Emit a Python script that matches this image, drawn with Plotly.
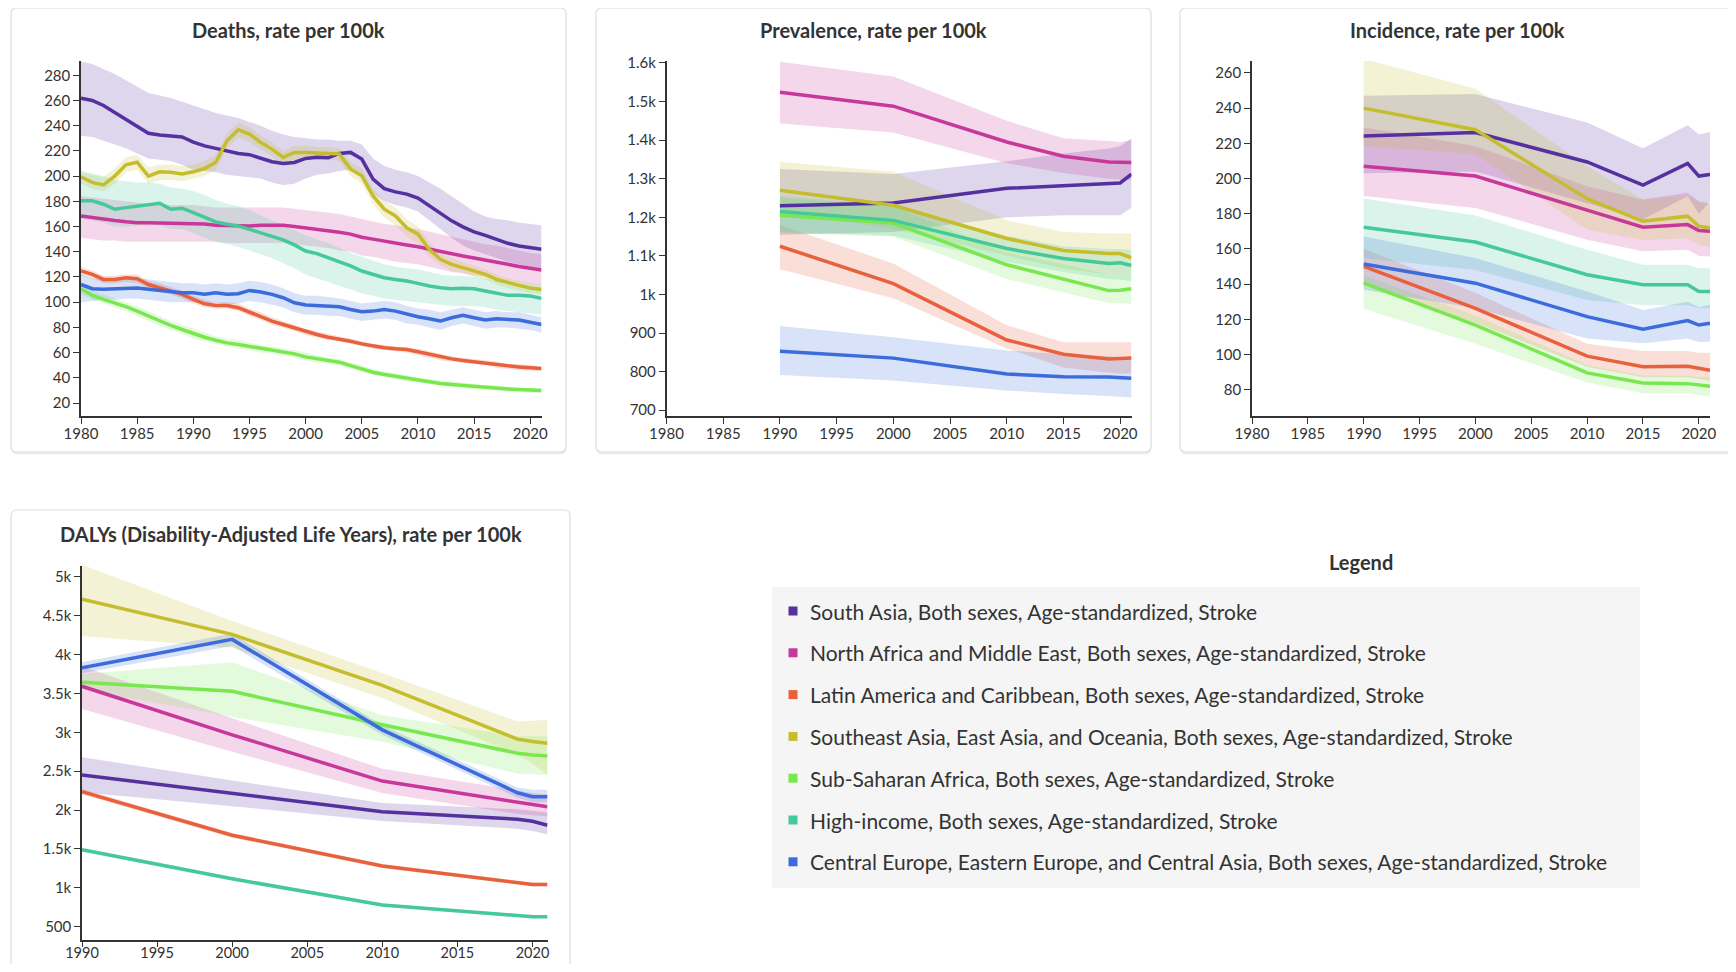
import plotly.graph_objects as go

# page geometry (target picture is 1736x972; body margin of 8px is compensated)
PAGE_W, PAGE_H = 1736, 972
OFF = 8
W, H = PAGE_W - 2 * OFF, PAGE_H - 2 * OFF

# ---------------- series ----------------
series_names = [
    "South Asia, Both sexes, Age-standardized, Stroke",
    "North Africa and Middle East, Both sexes, Age-standardized, Stroke",
    "Latin America and Caribbean, Both sexes, Age-standardized, Stroke",
    "Southeast Asia, East Asia, and Oceania, Both sexes, Age-standardized, Stroke",
    "Sub-Saharan Africa, Both sexes, Age-standardized, Stroke",
    "High-income, Both sexes, Age-standardized, Stroke",
    "Central Europe, Eastern Europe, and Central Asia, Both sexes, Age-standardized, Stroke",
]
series_colors = ["#55309f", "#c8389a", "#e8603c", "#c5bd2e", "#78e84e", "#45c99a", "#3b6cdb"]

# ---------------- Deaths (annual 1980-2021) ----------------
death_years = list(range(1980, 2022))
sa_d = [261.7, 260, 256, 250.6, 245, 239, 234, 232.6, 231.5, 231, 227, 224, 222, 220, 218, 217, 214.5, 211.4, 210, 210.8,
        214, 215, 214.5, 218, 218.8, 213.5, 197.6, 190, 187.5, 185.7, 182.5, 176.4, 169.8, 164.5, 159.7, 155.7, 153, 150, 146.7, 144.6, 143, 142]
sa_d_up = [291, 289, 285, 281, 276, 271, 266, 264, 262, 259, 256, 253, 250, 248, 246, 243, 240, 236, 233, 231,
           230, 229, 229, 228, 228, 225, 214, 208, 205, 203, 200, 195, 190, 184, 178, 172, 168, 166, 165, 163, 162, 161]
sa_d_lo = [232, 231, 228, 225, 222, 218, 214, 213, 212, 209, 205, 204, 203, 201, 200, 199, 198, 195, 193, 194,
           198, 201, 202, 204, 205, 199, 186, 180, 177, 175, 172, 165, 158, 151, 145, 141, 138, 135, 132, 130, 128, 126]
name_d = [168.4, 167, 165.8, 164.7, 163.7, 163, 163, 162.8, 162.6, 162.6, 162.6, 162, 161, 160.8, 160.5, 160.5, 161, 161, 161, 160,
          159, 158, 157, 155.5, 154, 151.5, 150, 148.3, 146.7, 145.3, 144, 142, 140, 138.3, 136.6, 135, 133.5, 131.7, 130, 128.3, 126.6, 125.5]
name_d_up = [184, 183, 182, 181, 180, 179, 178, 178, 177, 177, 177, 176, 175, 175, 175, 175, 175, 175, 175, 174,
             173, 172, 171, 170, 168, 166, 164, 162, 161, 159, 158, 156, 154, 152, 150, 148, 146, 145, 143, 141, 139, 138]
name_d_lo = [151, 150, 149, 149, 148, 148, 148, 148, 148, 148, 148, 148, 148, 147, 147, 147, 147, 147, 147, 146,
             145, 144, 143, 141, 140, 137, 136, 134, 132, 131, 130, 128, 126, 124, 123, 121, 120, 118, 117, 115, 114, 113]
la_d = [124.7, 122, 118, 118, 119.4, 118.6, 114, 111.5, 109.3, 106.2, 102.2, 98.7, 97.4, 97.4, 95.6, 92.1, 88.9, 85, 82.3, 79.6,
        76.5, 74.4, 72.2, 70.9, 69, 66.9, 65, 63.8, 63, 62.4, 60.6, 58.5, 56.6, 55, 53.7, 52.6, 51.8, 50.5, 49.2, 48.6, 47.9, 47.3]
la_d_up = [128, 125, 121, 121, 122, 122, 117, 115, 112, 109, 105, 102, 100, 100, 99, 95, 92, 88, 85, 82,
           79, 77, 75, 73, 71, 69, 67, 66, 65, 64, 63, 61, 59, 57, 56, 55, 54, 53, 51, 51, 50, 49]
la_d_lo = [121, 119, 115, 115, 116, 115, 111, 108, 106, 103, 99, 96, 95, 95, 93, 89, 86, 82, 80, 77,
           74, 72, 70, 69, 67, 65, 63, 62, 61, 60, 58, 56, 54, 53, 52, 51, 50, 48, 47, 46, 46, 45]
sea_d = [199.4, 195, 193, 200, 209, 211, 200, 203.4, 203, 201.6, 203.4, 206, 211, 228, 236.8, 233.4, 226.7, 221.4, 214.8, 218.8,
         218.8, 218.3, 218, 217.5, 205.5, 200.2, 184.3, 173.7, 168.4, 159, 153.9, 142, 134, 130, 127.4, 124.7, 122, 118, 115.4, 113.3, 111.2, 110]
sea_d_up = [205, 201, 199, 206, 215, 217, 207, 209, 209, 208, 209, 212, 217, 234, 242, 239, 232, 227, 220, 224,
            224, 223, 223, 222, 211, 206, 190, 180, 175, 166, 160, 148, 139, 135, 132, 129, 126, 122, 119, 117, 115, 114]
sea_d_lo = [194, 190, 188, 194, 203, 205, 194, 197, 197, 196, 198, 200, 205, 222, 231, 227, 221, 216, 209, 213,
            213, 213, 213, 212, 200, 194, 178, 167, 161, 152, 147, 136, 129, 125, 123, 120, 118, 114, 111, 109, 107, 106]
ssa_d = [110.7, 105.4, 102.2, 99.5, 96.4, 92.9, 88.9, 85, 81.5, 78.3, 74.9, 72.2, 69.8, 67.7, 66.4, 65, 63.2, 61.6, 60.3, 59,
         56.6, 55, 53.7, 52.4, 49.7, 47.1, 44.4, 42.6, 41.2, 39.4, 37.8, 36.5, 35.4, 34.6, 33.8, 33.3, 32.5, 32, 31.2, 30.7, 30.1, 29.9]
ssa_d_up = [114, 109, 106, 103, 100, 97, 93, 89, 85, 82, 79, 76, 73, 71, 70, 68, 66, 65, 63, 62,
            60, 58, 56, 55, 52, 50, 47, 45, 44, 42, 40, 39, 38, 37, 36, 35, 34, 34, 33, 32, 32, 32]
ssa_d_lo = [106, 102, 99, 96, 93, 89, 85, 81, 78, 75, 71, 69, 67, 65, 63, 62, 60, 59, 58, 56,
            54, 52, 51, 50, 47, 45, 42, 41, 39, 37, 36, 35, 34, 33, 32, 31, 31, 30, 29, 29, 28, 28]
hi_d = [180.4, 180.4, 177.7, 173.7, 175, 176.4, 177.7, 178.5, 173.7, 174.5, 171, 167, 163.7, 161.8, 160.5, 157.8, 155, 152, 149.4, 145.4,
        140.6, 138.5, 135.3, 132.1, 128.7, 124.7, 122, 119.4, 118, 116.8, 114.9, 112.8, 111.5, 110.7, 111, 110.7, 108.8, 107, 105.4, 105.4, 104.8, 103]
hi_d_up = [203, 202, 200, 197, 196, 195, 195, 194, 191, 190, 188, 185, 181, 178, 176, 173, 169, 165, 161, 157,
           153, 150, 147, 143, 139, 136, 133, 130, 128, 127, 126, 124, 122, 121, 121, 120, 119, 117, 116, 115, 114, 113]
hi_d_lo = [166, 165, 163, 160, 160, 161, 161, 161, 158, 158, 155, 151, 148, 146, 144, 141, 138, 135, 131, 127,
           122, 119, 116, 113, 110, 107, 105, 103, 102, 101, 100, 99, 98, 97, 97, 97, 96, 94, 93, 92, 91, 90]
ce_d = [114, 110.7, 110.2, 110.7, 111, 111.2, 110.2, 109.3, 108, 107.5, 107.5, 106.2, 107.5, 106.2, 106.7, 109.3, 108, 106.2, 103.5, 99.5,
        97.7, 97.4, 96.9, 96.4, 94.2, 92.4, 92.9, 94.2, 92.9, 90.3, 88.4, 86.8, 85, 87.6, 89.5, 87.6, 85.8, 86.8, 86.3, 85.8, 84.1, 82.3]
ce_d_up = [122, 119, 118, 119, 119, 119, 118, 117, 116, 115, 115, 114, 115, 114, 115, 117, 116, 114, 111, 107,
           105, 105, 104, 103, 101, 99, 100, 101, 100, 97, 95, 94, 92, 94, 96, 94, 92, 93, 92, 92, 90, 88]
ce_d_lo = [100, 101, 102, 102, 103, 103, 102, 101, 100, 100, 100, 99, 100, 98, 99, 101, 100, 98, 96, 92,
           90, 90, 89, 89, 87, 85, 86, 87, 86, 83, 82, 80, 78, 81, 83, 81, 79, 80, 80, 79, 78, 76]

# ---------------- Prevalence ----------------
prev_years = [1990, 2000, 2010, 2015, 2019, 2020, 2021]
sa_p = [1230, 1237, 1275, 1283, 1288, 1289, 1312]
sa_p_up = [1325, 1312, 1345, 1365, 1378, 1385, 1405]
sa_p_lo = [1155, 1162, 1200, 1205, 1205, 1205, 1225]
name_p = [1524, 1488, 1395, 1358, 1343, 1342, 1342]
name_p_up = [1603, 1565, 1450, 1405, 1398, 1395, 1400]
name_p_lo = [1443, 1420, 1340, 1315, 1300, 1298, 1296]
la_p = [1125, 1028, 882, 845, 833, 833, 835]
la_p_up = [1180, 1080, 920, 876, 876, 876, 876]
la_p_lo = [1065, 990, 860, 811, 797, 795, 795]
sea_p = [1270, 1231, 1145, 1114, 1106, 1106, 1095]
sea_p_up = [1344, 1318, 1192, 1162, 1158, 1158, 1158]
sea_p_lo = [1214, 1170, 1101, 1067, 1052, 1050, 1049]
ssa_p = [1205, 1185, 1077, 1041, 1010, 1011, 1015]
ssa_p_up = [1250, 1228, 1108, 1078, 1052, 1050, 1050]
ssa_p_lo = [1160, 1150, 1040, 1005, 978, 977, 975]
hi_p = [1215, 1192, 1119, 1093, 1080, 1082, 1075]
hi_p_up = [1255, 1230, 1152, 1125, 1118, 1118, 1115]
hi_p_lo = [1162, 1152, 1085, 1058, 1040, 1038, 1035]
ce_p = [853, 835, 794, 787, 786, 785, 783]
ce_p_up = [918, 889, 855, 845, 840, 838, 835]
ce_p_lo = [791, 777, 751, 742, 737, 735, 733]

# ---------------- Incidence ----------------
inc_years = [1990, 2000, 2010, 2015, 2019, 2020, 2021]
sa_i = [224.2, 226.1, 209.4, 196.3, 208.6, 201.4, 202.3]
sa_i_up = [247, 248, 231.8, 217.2, 230.3, 225, 226.5]
sa_i_lo = [203, 204, 186, 176.7, 190, 180, 187]
name_i = [207, 201.4, 182, 172.3, 173.8, 170.4, 170]
name_i_up = [229, 218.5, 195.6, 188, 191.9, 187, 186]
name_i_lo = [190, 183.3, 165.2, 158.6, 159.5, 156, 155.7]
la_i = [150, 126.2, 99, 93, 93.3, 92.4, 91]
la_i_up = [160, 135, 106, 102, 102, 101, 101]
la_i_lo = [140, 118, 93, 87, 87, 86, 85]
sea_i = [240, 227.7, 188.5, 175.7, 178.6, 172.9, 171.9]
sea_i_up = [268, 251, 207, 188, 190, 187, 186]
sea_i_lo = [218.5, 213.8, 171, 165, 166, 162, 161.4]
ssa_i = [140.5, 116.7, 89.5, 83.8, 83.4, 82.5, 81.9]
ssa_i_up = [145, 122, 94, 88, 88, 87, 87]
ssa_i_lo = [126, 106, 84, 78, 78, 77, 76]
hi_i = [172.3, 163.9, 145.3, 139.6, 139.6, 135.8, 135.8]
hi_i_up = [188.6, 179, 159.5, 151, 151, 149, 149]
hi_i_lo = [154.8, 148, 131, 128, 128, 126.5, 126.2]
ce_i = [151.4, 140.5, 121.5, 114.4, 119.2, 116.7, 117.7]
ce_i_up = [167, 154.8, 135.8, 125.3, 130, 127, 128.1]
ce_i_lo = [136.7, 126.2, 109.1, 106.3, 109, 107, 107.2]

# ---------------- DALYs ----------------
daly_years = [1990, 2000, 2010, 2019, 2020, 2021]
sa_y = [2451, 2214, 1977, 1882, 1857, 1805]
sa_y_up = [2680, 2380, 2090, 2010, 1990, 1970]
sa_y_lo = [2230, 2050, 1860, 1760, 1730, 1690]
name_y = [3592, 2968, 2373, 2093, 2063, 2042]
name_y_up = [3850, 3180, 2530, 2250, 2220, 2200]
name_y_lo = [3300, 2750, 2220, 1950, 1935, 1920]
la_y = [2236, 1676, 1280, 1073, 1043, 1043]
la_y_up = [2270, 1705, 1305, 1095, 1068, 1068]
la_y_lo = [2200, 1645, 1255, 1050, 1020, 1020]
sea_y = [4712, 4259, 3605, 2912, 2881, 2860]
sea_y_up = [5155, 4432, 3764, 3140, 3150, 3161]
sea_y_lo = [4238, 4087, 3441, 2709, 2600, 2451]
ssa_y = [3644, 3527, 3097, 2731, 2709, 2696]
ssa_y_up = [3750, 3900, 3220, 2950, 2950, 2950]
ssa_y_lo = [3550, 3200, 2880, 2470, 2460, 2450]
hi_y = [1491, 1116, 780, 642, 629, 629]
hi_y_up = [1515, 1140, 800, 665, 650, 650]
hi_y_lo = [1465, 1090, 760, 620, 608, 608]
ce_y = [3829, 4195, 3032, 2223, 2171, 2171]
ce_y_up = [3900, 4270, 3090, 2290, 2260, 2260]
ce_y_lo = [3760, 4110, 2970, 2160, 2100, 2100]

# tick labels
death_ticks = [20, 40, 60, 80, 100, 120, 140, 160, 180, 200, 220, 240, 260, 280]
prev_tickvals = [700, 800, 900, 1000, 1100, 1200, 1300, 1400, 1500, 1600]
prev_ticktext = ["700", "800", "900", "1k", "1.1k", "1.2k", "1.3k", "1.4k", "1.5k", "1.6k"]
inc_ticks = [80, 100, 120, 140, 160, 180, 200, 220, 240, 260]
daly_tickvals = [500, 1000, 1500, 2000, 2500, 3000, 3500, 4000, 4500, 5000]
daly_ticktext = ["500", "1k", "1.5k", "2k", "2.5k", "3k", "3.5k", "4k", "4.5k", "5k"]
year_ticks_a = [1980, 1985, 1990, 1995, 2000, 2005, 2010, 2015, 2020]
year_ticks_b = [1990, 1995, 2000, 2005, 2010, 2015, 2020]

panel_titles = ["Deaths, rate per 100k", "Prevalence, rate per 100k", "Incidence, rate per 100k",
                "DALYs (Disability-Adjusted Life Years), rate per 100k"]

panels = [
    ("x", "y", death_years, [(sa_d, sa_d_up, sa_d_lo), (name_d, name_d_up, name_d_lo), (la_d, la_d_up, la_d_lo),
                             (sea_d, sea_d_up, sea_d_lo), (ssa_d, ssa_d_up, ssa_d_lo), (hi_d, hi_d_up, hi_d_lo),
                             (ce_d, ce_d_up, ce_d_lo)]),
    ("x2", "y2", prev_years, [(sa_p, sa_p_up, sa_p_lo), (name_p, name_p_up, name_p_lo), (la_p, la_p_up, la_p_lo),
                              (sea_p, sea_p_up, sea_p_lo), (ssa_p, ssa_p_up, ssa_p_lo), (hi_p, hi_p_up, hi_p_lo),
                              (ce_p, ce_p_up, ce_p_lo)]),
    ("x3", "y3", inc_years, [(sa_i, sa_i_up, sa_i_lo), (name_i, name_i_up, name_i_lo), (la_i, la_i_up, la_i_lo),
                             (sea_i, sea_i_up, sea_i_lo), (ssa_i, ssa_i_up, ssa_i_lo), (hi_i, hi_i_up, hi_i_lo),
                             (ce_i, ce_i_up, ce_i_lo)]),
    ("x4", "y4", daly_years, [(sa_y, sa_y_up, sa_y_lo), (name_y, name_y_up, name_y_lo), (la_y, la_y_up, la_y_lo),
                              (sea_y, sea_y_up, sea_y_lo), (ssa_y, ssa_y_up, ssa_y_lo), (hi_y, hi_y_up, hi_y_lo),
                              (ce_y, ce_y_up, ce_y_lo)]),
]


def rgba(hexc, a):
    h = hexc.lstrip("#")
    r, g, b = int(h[0:2], 16), int(h[2:4], 16), int(h[4:6], 16)
    return f"rgba({r},{g},{b},{a})"


fig = go.Figure()

for xa, ya, yrs, data in panels:
    for i, (vals, up, lo) in enumerate(data):
        fig.add_trace(go.Scatter(
            x=list(yrs) + list(yrs)[::-1], y=list(up) + list(lo)[::-1],
            xaxis=xa, yaxis=ya, mode="lines", fill="toself",
            fillcolor=rgba(series_colors[i], 0.2), line=dict(width=0),
            hoverinfo="skip", showlegend=False))
    for i, (vals, up, lo) in enumerate(data):
        fig.add_trace(go.Scatter(
            x=yrs, y=vals, xaxis=xa, yaxis=ya, mode="lines",
            line=dict(color=series_colors[i], width=3.5),
            name=series_names[i], showlegend=False))


# page pixel -> paper coordinates
def px_x(v):
    return (v - OFF) / W


def px_y(v):
    return 1 - (v - OFF) / H


axis_common = dict(showgrid=False, zeroline=False, showline=True, linecolor="#333", linewidth=1.5,
                   ticks="outside", ticklen=6, tickwidth=1.3, tickcolor="#333", automargin=False,
                   tickfont=dict(family="Lato", size=15, color="#333"), fixedrange=True)
xaxis_common = dict(axis_common, ticklabelstandoff=-3)
xaxis_bottom = dict(axis_common, ticklabelstandoff=-6, ticklen=5,
                    tickfont=dict(family="Lato", size=14.5, color="#333"))

fig.update_layout(
    width=W, height=H, margin=dict(l=0, r=0, t=0, b=0, pad=0, autoexpand=False),
    paper_bgcolor="white", plot_bgcolor="rgba(0,0,0,0)", showlegend=False,
    font=dict(family="Lato", color="#333"),
    xaxis=dict(domain=[px_x(81), px_x(541.5)], range=[1980, 2021], tickvals=year_ticks_a, anchor="y", **xaxis_common),
    yaxis=dict(domain=[px_y(416), px_y(61)], range=[9.7, 291.3], tickvals=death_ticks, anchor="x", **axis_common),
    xaxis2=dict(domain=[px_x(666.5), px_x(1131.5)], range=[1980, 2021], tickvals=year_ticks_a, anchor="y2", **xaxis_common),
    yaxis2=dict(domain=[px_y(416), px_y(61)], range=[685, 1605], tickvals=prev_tickvals, ticktext=prev_ticktext,
                anchor="x2", **axis_common),
    xaxis3=dict(domain=[px_x(1252), px_x(1710)], range=[1980, 2021], tickvals=year_ticks_a, anchor="y3", **xaxis_common),
    yaxis3=dict(domain=[px_y(416), px_y(61)], range=[65, 266.8], tickvals=inc_ticks, anchor="x3", **axis_common),
    xaxis4=dict(domain=[px_x(82), px_x(547.5)], range=[1990, 2021], tickvals=year_ticks_b, anchor="y4", **xaxis_bottom),
    yaxis4=dict(domain=[px_y(940), px_y(566)], range=[329, 5139], tickvals=daly_tickvals, ticktext=daly_ticktext,
                anchor="x4", **axis_common),
)


def rrect_path(x0, y0, x1, y1, r):
    def P(x, y):
        return f"{px_x(x):.6f},{px_y(y):.6f}"
    return (f"M {P(x0 + r, y0)} L {P(x1 - r, y0)} Q {P(x1, y0)} {P(x1, y0 + r)} "
            f"L {P(x1, y1 - r)} Q {P(x1, y1)} {P(x1 - r, y1)} L {P(x0 + r, y1)} "
            f"Q {P(x0, y1)} {P(x0, y1 - r)} L {P(x0, y0 + r)} Q {P(x0, y0)} {P(x0 + r, y0)} Z")


cards = [(11, 8, 566, 452), (596, 8, 1151, 452), (1180, 8, 1735, 452), (11, 510, 570, 1000)]
shapes = []
for (x0, y0, x1, y1) in cards:
    shapes.append(dict(type="path", path=rrect_path(x0 + 0.5, y0 + 1.5, x1 + 0.5, y1 + 2.5, 6),
                       xref="paper", yref="paper", layer="below",
                       fillcolor="rgba(0,0,0,0.07)", line=dict(width=0)))
    shapes.append(dict(type="path", path=rrect_path(x0, y0, x1, y1, 6),
                       xref="paper", yref="paper", layer="below",
                       fillcolor="white", line=dict(color="#dedede", width=1.2)))

# legend box
shapes.append(dict(type="rect", xref="paper", yref="paper", layer="below",
                   x0=px_x(772), x1=px_x(1640), y0=px_y(888), y1=px_y(587),
                   fillcolor="#f5f5f5", line=dict(width=0)))

annotations = []
title_pos = [(288.5, 30), (873.5, 30), (1457.5, 30), (290.5, 534)]
for t, (tx, ty) in zip(panel_titles, title_pos):
    annotations.append(dict(text=f"<b>{t}</b>", x=px_x(tx), y=px_y(ty), xref="paper", yref="paper",
                            xanchor="center", yanchor="middle", showarrow=False,
                            font=dict(family="Lato", size=20, color="#333")))

annotations.append(dict(text="<b>Legend</b>", x=px_x(1361), y=px_y(562), xref="paper", yref="paper",
                        xanchor="center", yanchor="middle", showarrow=False,
                        font=dict(family="Lato", size=20, color="#333")))

row0, row_gap = 611, 41.8
for i, nm in enumerate(series_names):
    cy = row0 + i * row_gap
    shapes.append(dict(type="rect", xref="paper", yref="paper",
                       x0=px_x(788.5), x1=px_x(797.5), y0=px_y(cy + 4.5), y1=px_y(cy - 4.5),
                       fillcolor=series_colors[i], line=dict(width=0)))
    annotations.append(dict(text=nm, x=px_x(808), y=px_y(cy), xref="paper", yref="paper",
                            xanchor="left", yanchor="middle", showarrow=False,
                            font=dict(family="Lato", size=21, color="#333")))

fig.update_layout(shapes=shapes, annotations=annotations)

fig.write_html("out.html")
